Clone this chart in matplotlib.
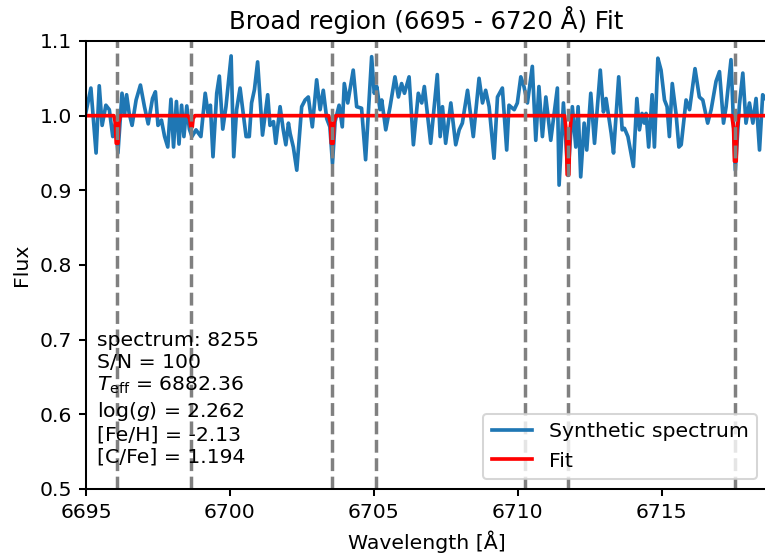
import numpy as np
import matplotlib
matplotlib.use("Agg")
import matplotlib.pyplot as plt

# Synthetic spectrum: wavelength [Å], flux
spec_wl = [
    6695.00, 6695.17, 6695.35, 6695.46, 6695.56, 6695.69, 6695.81, 6695.93, 6696.02, 6696.11,
    6696.25, 6696.34, 6696.41, 6696.50, 6696.60, 6696.74, 6696.89, 6697.03, 6697.16, 6697.31,
    6697.41, 6697.50, 6697.62, 6697.73, 6697.84, 6697.95, 6698.04, 6698.14, 6698.23, 6698.32,
    6698.40, 6698.50, 6698.59, 6698.68, 6698.82, 6698.99, 6699.14, 6699.24, 6699.32, 6699.41,
    6699.54, 6699.63, 6699.75, 6699.86, 6700.04, 6700.13, 6700.23, 6700.35, 6700.46, 6700.56,
    6700.67, 6700.75, 6700.85,
    6700.96, 6701.13, 6701.31, 6701.39, 6701.51, 6701.59, 6701.74, 6701.85, 6701.94, 6702.03,
    6702.09, 6702.20, 6702.32, 6702.49, 6702.61, 6702.72, 6702.86, 6703.01, 6703.13, 6703.24,
    6703.36, 6703.47, 6703.56, 6703.65, 6703.79, 6703.90, 6703.97, 6704.09, 6704.28, 6704.40,
    6704.57, 6704.71, 6704.92, 6705.01, 6705.10, 6705.21, 6705.27, 6705.41, 6705.56, 6705.73,
    6705.85, 6705.96, 6706.06, 6706.22, 6706.37, 6706.54, 6706.66, 6706.75,
    6706.97, 6707.20, 6707.30, 6707.38, 6707.49, 6707.67, 6707.84, 6707.96, 6708.07, 6708.25,
    6708.45, 6708.65, 6708.77, 6708.88, 6709.00, 6709.17, 6709.29, 6709.46, 6709.61, 6709.69,
    6709.87, 6709.98, 6710.10, 6710.21, 6710.33, 6710.50, 6710.62, 6710.73, 6710.85, 6710.97,
    6711.14, 6711.37, 6711.43, 6711.58, 6711.74, 6711.89, 6712.01, 6712.09, 6712.18, 6712.30,
    6712.39, 6712.53,
    6712.66, 6712.86, 6712.97, 6713.06, 6713.24, 6713.32, 6713.50, 6713.62, 6713.70, 6713.82,
    6714.01, 6714.13, 6714.22, 6714.31, 6714.39, 6714.45, 6714.54, 6714.66, 6714.74, 6714.86,
    6714.97, 6715.09, 6715.18, 6715.26, 6715.36, 6715.49, 6715.59, 6715.67, 6715.84, 6715.96,
    6716.15, 6716.30, 6716.42, 6716.59, 6716.71, 6716.88, 6717.00, 6717.14, 6717.23, 6717.40,
    6717.55, 6717.69, 6717.81, 6717.92, 6718.04, 6718.16, 6718.27, 6718.39, 6718.50, 6718.65,
]
spec_flux = [
    1.005, 1.037, 0.950, 1.040, 0.987, 1.014, 1.008, 0.972, 0.990, 0.950,
    1.030, 1.001, 1.028, 1.003, 0.987, 1.021, 1.041, 1.012, 0.989, 1.023,
    1.032, 0.987, 0.994, 0.972, 0.958, 1.022, 0.958, 1.019, 0.962, 1.014,
    0.972, 1.013, 0.982, 0.972, 0.981, 0.972, 1.030, 1.003, 1.014, 0.945,
    1.030, 1.053, 0.982, 1.012, 1.080, 0.945, 1.008, 1.037, 1.003, 0.972,
    0.972, 1.017, 1.035,
    1.072, 0.974, 1.028, 0.987, 0.992, 0.963, 1.012, 0.981, 0.961, 0.990,
    0.976, 0.958, 0.927, 1.012, 1.021, 1.025, 0.985, 1.048, 1.008, 1.034,
    0.996, 0.985, 0.936, 0.992, 1.014, 0.985, 1.043, 1.017, 1.061, 1.012,
    1.010, 0.941, 1.079, 1.030, 1.039, 1.008, 1.021, 0.981, 1.012, 1.052,
    1.025, 1.043, 1.030, 1.052, 0.961, 1.030, 1.017, 1.039,
    0.963, 1.055, 0.972, 1.012, 0.963, 1.017, 0.961, 0.981, 0.990, 1.034,
    0.972, 1.050, 1.017, 1.034, 1.012, 0.943, 1.025, 1.037, 0.954, 1.014,
    1.008, 1.017, 1.052, 1.039, 1.017, 1.066, 0.967, 1.039, 0.972, 1.025,
    0.967, 1.037, 0.907, 1.017, 0.920, 1.012, 0.958, 1.012, 0.918, 0.990,
    0.954, 1.030,
    0.963, 1.061, 1.005, 1.023, 0.976, 0.950, 1.052, 0.981, 0.983, 0.972,
    0.932, 1.023, 0.981, 1.003, 0.990, 1.003, 0.958, 1.028, 0.958, 1.077,
    1.061, 1.021, 1.012, 0.972, 1.043, 1.003, 0.958, 0.961, 1.021, 1.008,
    1.063, 1.025, 1.021, 0.990, 1.008, 1.046, 1.059, 0.990, 1.012, 1.075,
    0.927, 1.014, 1.057, 0.990, 1.017, 0.990, 1.023, 0.954, 1.028, 1.020,
]

# Fit
fit_wl = [
    6695.00,
    6695.97, 6696.02, 6696.05, 6696.11, 6696.14, 6696.19,
    6698.54, 6698.60, 6698.64, 6698.69, 6698.72, 6698.78,
    6703.43, 6703.49, 6703.52, 6703.58, 6703.61, 6703.67,
    6711.62, 6711.68, 6711.71, 6711.77, 6711.80, 6711.86,
    6717.43, 6717.49, 6717.52, 6717.58, 6717.61, 6717.67,
    6718.65,
]
fit_flux = [
    1.000,
    1.000, 0.990, 0.963, 0.963, 0.990, 1.000,
    1.000, 0.996, 0.985, 0.985, 0.996, 1.000,
    1.000, 0.990, 0.963, 0.963, 0.990, 1.000,
    1.000, 0.978, 0.921, 0.921, 0.978, 1.000,
    1.000, 0.983, 0.939, 0.939, 0.983, 1.000,
    1.000,
]

# Line positions (dashed markers)
line_positions = [6696.08, 6698.66, 6703.55, 6705.07, 6710.24, 6711.74, 6717.55]

info_lines = [
    "spectrum: 8255",
    "S/N = 100",
    r"$T_{\rm eff}$ = 6882.36",
    r"log($g$) = 2.262",
    "[Fe/H] = -2.13",
    "[C/Fe] = 1.194",
]

plt.rcParams["axes.linewidth"] = 1.0
plt.rcParams["xtick.major.width"] = 1.0
plt.rcParams["ytick.major.width"] = 1.0

DPI = 147
fig = plt.figure(figsize=(765 / DPI, 554 / DPI), dpi=DPI)
ax = fig.add_axes([86 / 765, 65 / 554, 681 / 765, 448 / 554])

ax.plot(spec_wl, spec_flux, color="#1f77b4", lw=1.8, label="Synthetic spectrum")
ax.plot(fit_wl, fit_flux, color="red", lw=1.8, label="Fit")
for lp in line_positions:
    ax.axvline(lp, color="gray", linestyle="--", lw=1.7)

ax.set_xlim(6695, 6718.65)
ax.set_ylim(0.5, 1.1)
ax.set_xticks([6695, 6700, 6705, 6710, 6715])
ax.set_yticks([0.5, 0.6, 0.7, 0.8, 0.9, 1.0, 1.1])
ax.set_xlabel("Wavelength [Å]")
ax.set_ylabel("Flux")
ax.set_title("Broad region (6695 - 6720 Å) Fit")

ax.text(0.016, 0.05, "\n".join(info_lines), transform=ax.transAxes,
        ha="left", va="bottom")
ax.legend(loc="lower right")

fig.savefig("out.png", dpi=DPI)
